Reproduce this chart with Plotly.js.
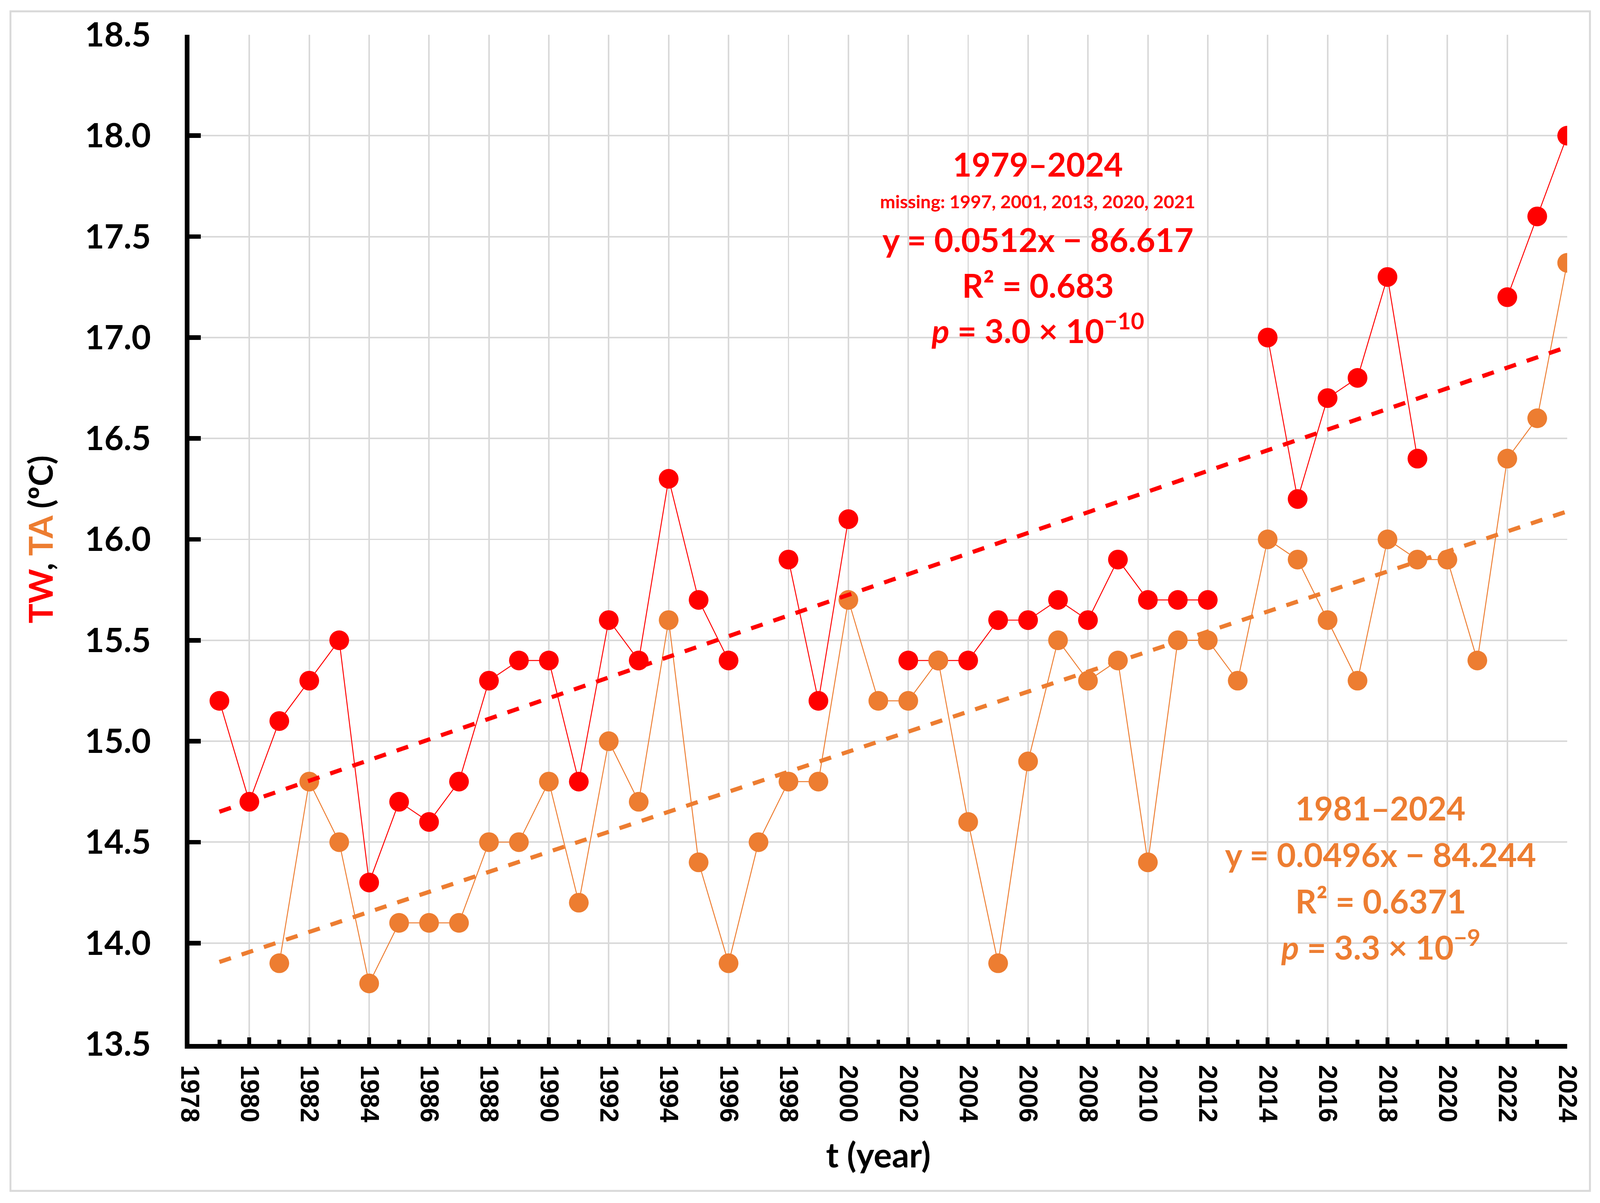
<!DOCTYPE html>
<html>
<head>
<meta charset="utf-8">
<script src="https://cdn.plot.ly/plotly-3.0.1.min.js"></script>
<style>
  html, body { margin: 0; padding: 0; background: #fff; overflow: hidden; }
  #chart { width: 100vw; height: 100vh; }
</style>
</head>
<body>
<div id="chart"></div>
<script>
// values, one per year 1979-2024 (null = missing)
var years = [1979, 1980, 1981, 1982, 1983, 1984, 1985, 1986, 1987, 1988,
             1989, 1990, 1991, 1992, 1993, 1994, 1995, 1996, 1997, 1998,
             1999, 2000, 2001, 2002, 2003, 2004, 2005, 2006, 2007, 2008,
             2009, 2010, 2011, 2012, 2013, 2014, 2015, 2016, 2017, 2018,
             2019, 2020, 2021, 2022, 2023, 2024]

var tw = [15.2, 14.7, 15.1, 15.3, 15.5, 14.3, 14.7, 14.6, 14.8, 15.3,
          15.4, 15.4, 14.8, 15.6, 15.4, 16.3, 15.7, 15.4, null, 15.9,
          15.2, 16.1, null, 15.4, 15.4, 15.4, 15.6, 15.6, 15.7, 15.6,
          15.9, 15.7, 15.7, 15.7, null, 17.0, 16.2, 16.7, 16.8, 17.3,
          16.4, null, null, 17.2, 17.6, 18.0]

var ta = [null, null, 13.9, 14.8, 14.5, 13.8, 14.1, 14.1, 14.1, 14.5,
          14.5, 14.8, 14.2, 15.0, 14.7, 15.6, 14.4, 13.9, 14.5, 14.8,
          14.8, 15.7, 15.2, 15.2, 15.4, 14.6, 13.9, 14.9, 15.5, 15.3,
          15.4, 14.4, 15.5, 15.5, 15.3, 16.0, 15.9, 15.6, 15.3, 16.0,
          15.9, 15.9, 15.4, 16.4, 16.6, 17.37]

var trendYears = [1979, 2024]

var xTicks = [1978, 2024, 2]
var yTicks = [13.5, 18.5, 0.5]

var RED = "#FF0000"
var ORANGE = "#ED7D31"

// the design was measured on a 4220 x 3079 canvas; scale to the real window
var W = window.innerWidth || 4220
var H = window.innerHeight || 3079
var sx = W / 4220, sy = H / 3079
var s = Math.min(sx, sy)

// least squares fit over the years that have a value
function fitLine(xs, ys) {
    var px = [], py = []
    for (var i = 0; i < xs.length; i++) {
        if (ys[i] == null) continue
        px.push(xs[i]); py.push(ys[i])
    }
    var n = px.length, mx = 0, my = 0
    for (var i = 0; i < n; i++) { mx += px[i]; my += py[i] }
    mx /= n; my /= n
    var sxy = 0, sxx = 0
    for (var i = 0; i < n; i++) {
        sxy += (px[i] - mx) * (py[i] - my)
        sxx += (px[i] - mx) * (px[i] - mx)
    }
    var slope = sxy / sxx
    return function(x) { return my + slope * (x - mx) }
}

var twFit = fitLine(years, tw)
var taFit = fitLine(years, ta)

function seriesTrace(values, color) {
    return {
        x: years, y: values,
        type: "scatter", mode: "lines+markers",
        connectgaps: false,
        line: { color: color, width: 2.5 * s },
        marker: { color: color, size: 52 * s, line: { width: 0 } },
        hoverinfo: "skip"
    }
}

function trendTrace(fit, color) {
    var d = Math.round(32 * s), g = Math.round(30 * s)
    return {
        x: trendYears, y: trendYears.map(fit),
        type: "scatter", mode: "lines",
        line: { color: color, width: 11 * s, dash: d + "px," + g + "px" },
        hoverinfo: "skip"
    }
}

var data = [
    seriesTrace(tw, RED),
    seriesTrace(ta, ORANGE),
    trendTrace(twFit, RED),
    trendTrace(taFit, ORANGE)
]

// plot area on the 4220 x 3079 design: x 500..4133, y 89..2672
function px2x(px) { return (px - 500) / 3633 }
function px2y(py) { return (2672 - py) / 2583 }

function label(text, cx, cy, size, color) {
    return {
        xref: "paper", yref: "paper",
        x: px2x(cx), y: px2y(cy),
        xanchor: "center", yanchor: "middle",
        showarrow: false,
        text: text,
        font: { family: "Lato", size: size * s, color: color, weight: "bold" }
    }
}

var annotations = [
    label("1979–2024", 2737, 420, 86, RED),
    label("missing: 1997, 2001, 2013, 2020, 2021", 2737, 515, 48, RED),
    label("y = 0.0512x − 86.617", 2737, 612, 87, RED),
    label("R² = 0.683", 2737, 729, 87, RED),
    label("<i>p</i> = 3.0 × 10<sup>−10</sup>", 2737, 840, 87, RED),
    label("1981–2024", 3641, 2068, 86, ORANGE),
    label("y = 0.0496x − 84.244", 3641, 2186, 87, ORANGE),
    label("R² = 0.6371", 3641, 2305, 87, ORANGE),
    label("<i>p</i> = 3.3 × 10<sup>−9</sup>", 3641, 2418, 87, ORANGE)
]

var shapes = [
    // outer frame
    { type: "rect", xref: "paper", yref: "paper", layer: "below",
      x0: px2x(28), x1: px2x(4193), y0: px2y(3048), y1: px2y(29),
      line: { color: "#D9D9D9", width: 5 * s }, fillcolor: "rgba(0,0,0,0)" },
    // white boxes behind the fit texts
    { type: "rect", xref: "paper", yref: "paper", layer: "between",
      x0: px2x(2288), x1: px2x(3186), y0: px2y(910), y1: px2y(348),
      line: { width: 0 }, fillcolor: "#FFFFFF" },
    { type: "rect", xref: "paper", yref: "paper", layer: "between",
      x0: px2x(3211), x1: px2x(4071), y0: px2y(2462), y1: px2y(1995),
      line: { width: 0 }, fillcolor: "#FFFFFF" }
]

var layout = {
    width: W,
    height: H,
    margin: { l: 500 * sx, r: 87 * sx, t: 89 * sy, b: 407 * sy, pad: 0 },
    paper_bgcolor: "#FFFFFF",
    plot_bgcolor: "#FFFFFF",
    showlegend: false,
    hovermode: false,
    xaxis: {
        range: [xTicks[0], xTicks[1]],
        tick0: xTicks[0], dtick: xTicks[2],
        tickmode: "linear",
        ticks: "inside", ticklen: 17 * s, tickwidth: 10 * s, tickcolor: "#000",
        minor: { dtick: 1, ticks: "inside", ticklen: 11 * s, tickwidth: 10 * s,
                 tickcolor: "#000", showgrid: false },
        tickangle: 90,
        ticklabelstandoff: Math.round(30 * s),
        tickfont: { family: "Liberation Sans", size: 68 * s, color: "#000", weight: "bold" },
        showline: true, linewidth: 12 * s, linecolor: "#000",
        showgrid: true, gridcolor: "#D9D9D9", gridwidth: 4 * s,
        zeroline: false,
        title: { text: "t (year)", standoff: 62 * s,
                 font: { family: "Lato", size: 90 * s, color: "#000", weight: "bold" } }
    },
    yaxis: {
        range: [yTicks[0], yTicks[1]],
        tick0: yTicks[0], dtick: yTicks[2],
        tickmode: "linear",
        tickformat: ".1f",
        ticks: "inside", ticklen: 30 * s, tickwidth: 12 * s, tickcolor: "#000",
        ticklabelstandoff: Math.round(72 * s),
        tickfont: { family: "Lato", size: 88 * s, color: "#000", weight: "bold" },
        showline: true, linewidth: 12 * s, linecolor: "#000",
        showgrid: true, gridcolor: "#D9D9D9", gridwidth: 4 * s,
        zeroline: false,
        title: { text: "<span style=\"color:" + RED + "\">TW</span>, <span style=\"color:" + ORANGE + "\">TA</span> (ºC)",
                 standoff: 60 * s,
                 font: { family: "Lato", size: 87 * s, color: "#000", weight: "bold" } }
    },
    shapes: shapes,
    annotations: annotations
}

Plotly.newPlot("chart", data, layout, { displayModeBar: false, staticPlot: true })
</script>
</body>
</html>
